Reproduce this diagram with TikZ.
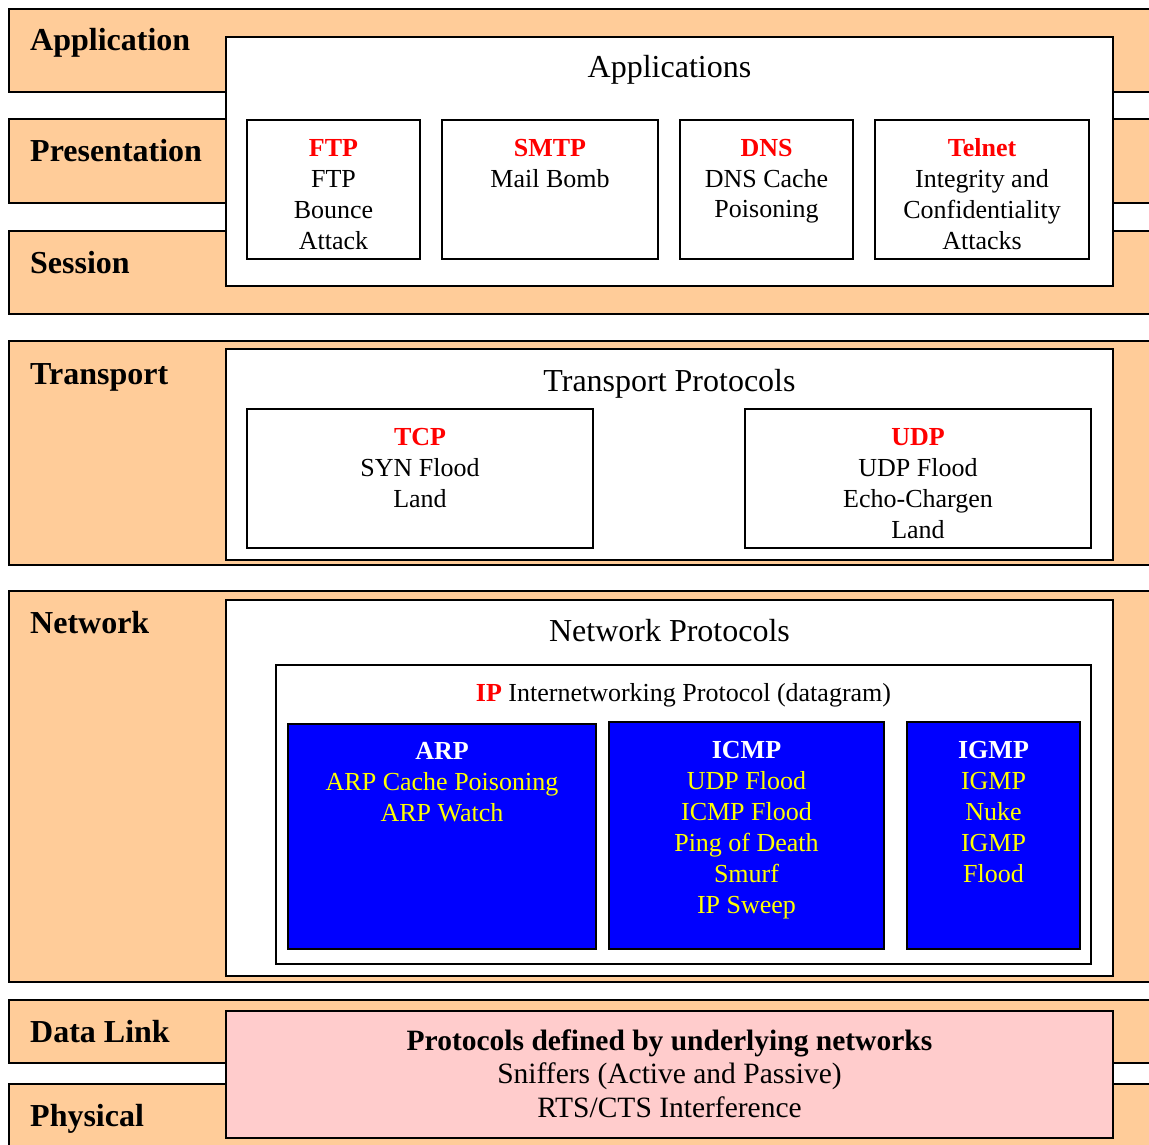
\documentclass[tikz,border=0pt]{standalone}
\usepackage{fontspec}
\setmainfont{Liberation Serif}
\definecolor{peach}{HTML}{FFCC99}
\definecolor{pinkbox}{HTML}{FFCCCC}
\definecolor{protoblue}{HTML}{0000FF}
\definecolor{attackyellow}{HTML}{FFFF00}
\newcommand\protohead[1]{\textcolor{red}{\textbf{#1}}}
\begin{document}
\begin{tikzpicture}[x=1pt,y=-1pt,
  rect/.style={draw=black, line width=2pt, inner sep=0pt, outer sep=0pt, anchor=north west},
  band/.style={rect, fill=peach, minimum width=1151pt},
  wbox/.style={rect, fill=white},
  bbox/.style={rect, fill=protoblue},
  pbox/.style={rect, fill=pinkbox},
  layer/.style={inner sep=0pt, anchor=base west, font=\fontsize{32}{38}\selectfont\bfseries},
  title/.style={inner sep=0pt, anchor=base, font=\fontsize{32}{38}\selectfont},
  txt/.style={inner sep=0pt, anchor=base, align=center, font=\fontsize{26}{31}\selectfont},
  ytxt/.style={txt, text=attackyellow},
  btxt/.style={inner sep=0pt, anchor=base, align=center, font=\fontsize{29.5}{33.5}\selectfont}
]
\useasboundingbox (0,0) rectangle (1149,1145);
\clip (0,0) rectangle (1149,1145);
\fill[white] (0,0) rectangle (1149,1145);

% OSI layer bands
\node[band, minimum height=83pt] (app) at (9,9) {};
\node[band, minimum height=84pt] (pres) at (9,119) {};
\node[band, minimum height=83pt] (sess) at (9,231) {};
\node[band, minimum height=224pt] (trans) at (9,341) {};
\node[band, minimum height=391pt] (net) at (9,591) {};
\node[band, minimum height=63pt] (dlink) at (9,1000) {};
\node[band, minimum height=80pt] (phys) at (9,1084) {};

\node[layer] (lapp) at (30,51) {Application};
\node[layer] (lpres) at (30,162) {Presentation};
\node[layer] (lsess) at (30,273) {Session};
\node[layer] (ltrans) at (30,384) {Transport};
\node[layer] (lnet) at (30,633) {Network};
\node[layer] (ldlink) at (30,1042) {Data Link};
\node[layer] (lphys) at (30,1126) {Physical};

% Applications
\node[wbox, minimum width=887pt, minimum height=249pt] (appbox) at (226,37) {};
\node[title] (tapp) at (669.5,78) {Applications};
\node[wbox, minimum width=173pt, minimum height=139pt] (ftp) at (247,120) {};
\node[wbox, minimum width=216pt, minimum height=139pt] (smtp) at (442,120) {};
\node[wbox, minimum width=173pt, minimum height=139pt] (dns) at (680,120) {};
\node[wbox, minimum width=214pt, minimum height=139pt] (telnet) at (875,120) {};
\node[txt] (tftp) at (333.5,249) {\protohead{FTP}\\FTP\\Bounce\\Attack};
\node[txt] (tsmtp) at (550,187) {\protohead{SMTP}\\Mail Bomb};
\node[txt] (tdns) at (766.5,218) {\protohead{DNS}\\DNS Cache\\Poisoning};
\node[txt] (ttelnet) at (982,249) {\protohead{Telnet}\\Integrity and\\Confidentiality\\Attacks};

% Transport
\node[wbox, minimum width=887pt, minimum height=211pt] (transbox) at (226,349) {};
\node[title] (ttrans) at (669.5,391) {Transport Protocols};
\node[wbox, minimum width=346pt, minimum height=139pt] (tcp) at (247,409) {};
\node[wbox, minimum width=346pt, minimum height=139pt] (udp) at (745,409) {};
\node[txt] (ttcp) at (420,507) {\protohead{TCP}\\SYN Flood\\Land};
\node[txt] (tudp) at (918,538) {\protohead{UDP}\\UDP Flood\\Echo-Chargen\\Land};

% Network
\node[wbox, minimum width=887pt, minimum height=376pt] (netbox) at (226,600) {};
\node[title] (tnet) at (669.5,641) {Network Protocols};
\node[wbox, minimum width=815pt, minimum height=299pt] (ipbox) at (276,665) {};
\node[txt] (tip) at (683.5,701) {\protohead{IP} Internetworking Protocol (datagram)};
\node[bbox, minimum width=308pt, minimum height=225pt] (arp) at (288,724) {};
\node[bbox, minimum width=275pt, minimum height=227pt] (icmp) at (609,722) {};
\node[bbox, minimum width=173pt, minimum height=227pt] (igmp) at (907,722) {};
\node[ytxt] (tarp) at (442,821) {\textcolor{white}{\textbf{ARP}}\\ARP Cache Poisoning\\ARP Watch};
\node[ytxt] (ticmp) at (746.5,913) {\textcolor{white}{\textbf{ICMP}}\\UDP Flood\\ICMP Flood\\Ping of Death\\Smurf\\IP Sweep};
\node[ytxt] (tigmp) at (993.5,882) {\textcolor{white}{\textbf{IGMP}}\\IGMP\\Nuke\\IGMP\\Flood};

% Data link / physical
\node[pbox, minimum width=887pt, minimum height=127pt] (pink) at (226,1011) {};
\node[btxt] (tpink) at (669.5,1117) {\textbf{Protocols defined by underlying networks}\\Sniffers (Active and Passive)\\RTS/CTS Interference};
\end{tikzpicture}
\end{document}
